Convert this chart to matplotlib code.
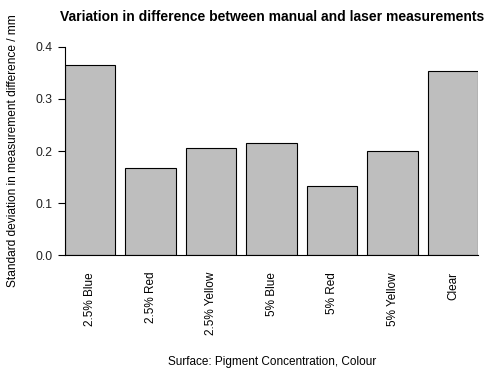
import matplotlib
matplotlib.use("Agg")
import matplotlib.pyplot as plt

categories = ["2.5% Blue", "2.5% Red", "2.5% Yellow", "5% Blue", "5% Red", "5% Yellow", "Clear"]
values = [0.365, 0.167, 0.205, 0.215, 0.133, 0.200, 0.353]
yticks = [0.0, 0.1, 0.2, 0.3, 0.4]
ytick_labels = ["0.0", "0.1", "0.2", "0.3", "0.4"]

plt.rcParams['font.family'] = ['Liberation Sans', 'DejaVu Sans']

W, H = 486, 371
fig = plt.figure(figsize=(W / 100, H / 100), dpi=100)
left_px, right_px = 65, 478.3
top_px, bot_px = 46.7, 255.3
ax = fig.add_axes([left_px / W, 1 - bot_px / H, (right_px - left_px) / W, (bot_px - top_px) / H])

x = [0.7 + 1.2 * i for i in range(len(categories))]
ax.bar(x, values, width=1.0, color="#BEBEBE", edgecolor="black", linewidth=0.8)
ax.set_xlim(0.2, 8.4)
ax.set_ylim(0, 0.4)

for s in ["top", "right"]:
    ax.spines[s].set_visible(False)
ax.spines["left"].set_bounds(0, 0.4)
ax.spines["left"].set_linewidth(0.8)
ax.spines["bottom"].set_linewidth(0.8)

ax.set_yticks(yticks)
ax.set_yticklabels(ytick_labels, fontsize=8.7, color="#222222")
ax.tick_params(axis="y", length=5.2, width=0.8, pad=4)

ax.set_xticks(x)
ax.set_xticklabels(categories, rotation=90, fontsize=8.5, va="top", ha="center")
ax.tick_params(axis="x", length=0, pad=12)

ax.set_ylabel("Standard deviation in measurement difference / mm", fontsize=8.6)
ax.yaxis.set_label_coords(-46 / (right_px - left_px), 0.5)

fig.text((left_px + right_px) / 2 / W, 1 - 17 / H,
         "Variation in difference between manual and laser measurements",
         ha="center", va="center", fontsize=10, fontweight="bold")
fig.text((left_px + right_px) / 2 / W, 1 - 362 / H,
         "Surface: Pigment Concentration, Colour",
         ha="center", va="center", fontsize=8.5)

fig.savefig("out.png", dpi=100)
